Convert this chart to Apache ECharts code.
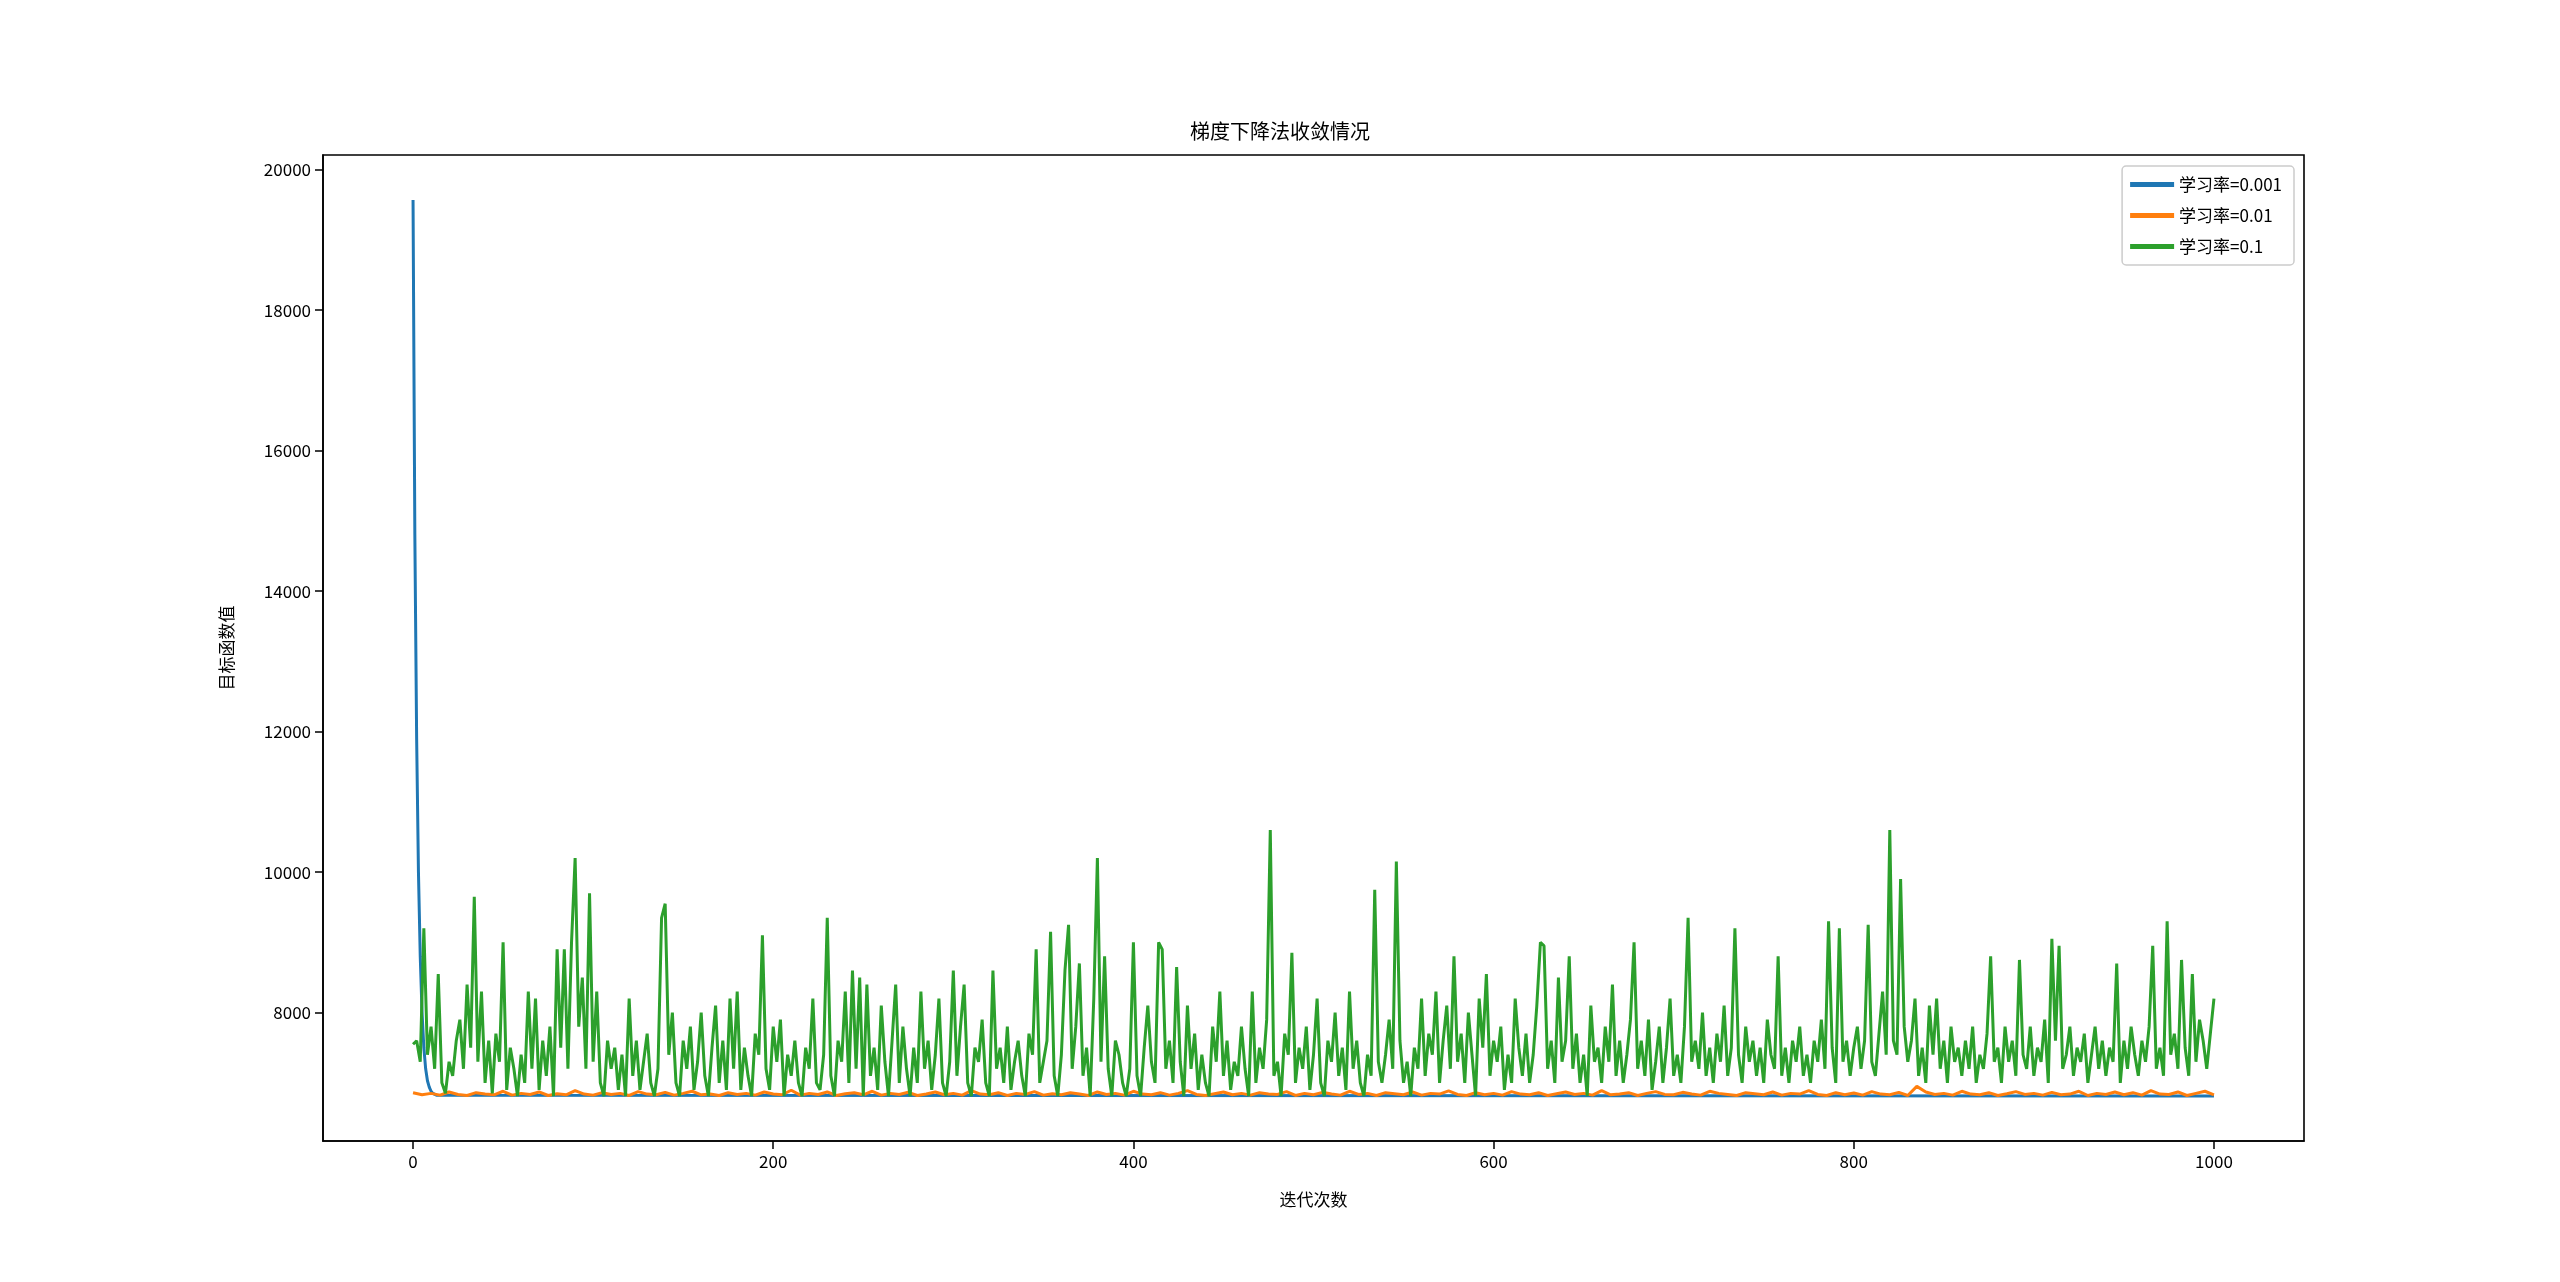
<!DOCTYPE html>
<html>
<head>
<meta charset="utf-8">
<script src="https://cdn.jsdelivr.net/npm/echarts@6/dist/echarts.min.js"></script>
<style>
  html, body { margin: 0; padding: 0; background: #fff; }
  #chart { width: 2560px; height: 1282px; }
</style>
</head>
<body>
<div id="chart"></div>
<script>
// 学习率=0.001: fast drop, then flat
let blueX = [0, 1, 2, 3, 4, 5, 6, 7, 8, 9, 10, 11, 12, 13, 14, 1000]
let blueY = [19570, 14800, 11900, 10000, 8800, 8000, 7500, 7200, 7030, 6940, 6880, 6850, 6835, 6825, 6818, 6812]

// 学习率=0.01: sampled every 5 iterations
let orangeStep = 5
let orangeY = [
  6860, 6830, 6850, 6825, 6870, 6835, 6820, 6860, 6840, 6830,
  6880, 6825, 6850, 6835, 6870, 6820, 6845, 6830, 6890, 6840,
  6825, 6860, 6835, 6850, 6820, 6875, 6840, 6830, 6865, 6825,
  6850, 6880, 6830, 6840, 6820, 6860, 6835, 6850, 6825, 6870,
  6840, 6830, 6895, 6825, 6850, 6835, 6870, 6820, 6845, 6860,
  6830, 6880, 6825, 6850, 6835, 6865, 6820, 6840, 6870, 6830,
  6850, 6825, 6890, 6840, 6830, 6860, 6820, 6850, 6835, 6875,
  6825, 6845, 6830, 6860, 6840, 6820, 6870, 6835, 6850, 6825,
  6880, 6840, 6830, 6860, 6825, 6850, 6890, 6835, 6820, 6845,
  6870, 6830, 6850, 6825, 6860, 6840, 6835, 6875, 6820, 6850,
  6830, 6865, 6840, 6825, 6880, 6835, 6850, 6820, 6860, 6845,
  6830, 6870, 6825, 6850, 6840, 6885, 6835, 6820, 6860, 6830,
  6850, 6825, 6875, 6840, 6830, 6860, 6820, 6845, 6870, 6835,
  6850, 6825, 6890, 6830, 6840, 6860, 6820, 6850, 6875, 6835,
  6830, 6865, 6840, 6825, 6880, 6850, 6835, 6820, 6860, 6845,
  6830, 6870, 6825, 6850, 6840, 6890, 6835, 6820, 6860, 6830,
  6855, 6825, 6875, 6840, 6830, 6865, 6820, 6950, 6870, 6835,
  6850, 6825, 6880, 6840, 6830, 6860, 6820, 6845, 6875, 6835,
  6850, 6825, 6865, 6830, 6840, 6880, 6820, 6850, 6835, 6870,
  6830, 6860, 6825, 6890, 6840, 6835, 6870, 6820, 6850, 6880,
  6830
]

// 学习率=0.1: sampled every 2 iterations
let greenStep = 2
let greenY = [
  7550, 7600, 7300, 9200, 7400, 7800, 7200, 8550, 7000, 6850,
  7300, 7100, 7600, 7900, 7200, 8400, 7500, 9650, 7300, 8300,
  7000, 7600, 6850, 7700, 7300, 9000, 6900, 7500, 7200, 6812,
  7400, 7000, 8300, 7200, 8200, 6900, 7600, 7100, 7800, 6812,
  8900, 7500, 8900, 7200, 9000, 10200, 7800, 8500, 7200, 9700,
  7300, 8300, 7000, 6812, 7600, 7200, 7500, 6900, 7400, 6812,
  8200, 7100, 7600, 6900, 7300, 7700, 7000, 6812, 7200, 9350,
  9550, 7400, 8000, 7000, 6812, 7600, 7200, 7800, 6900, 7300,
  8000, 7100, 6812, 7500, 8100, 7000, 7600, 6900, 8200, 7200,
  8300, 6900, 7500, 7100, 6812, 7700, 7400, 9100, 7200, 6900,
  7800, 7300, 7900, 6812, 7400, 7100, 7600, 7000, 6812, 7500,
  7200, 8200, 7000, 6900, 7400, 9350, 7100, 6812, 7600, 7300,
  8300, 7000, 8600, 7200, 8500, 6812, 8400, 7100, 7500, 6900,
  8100, 7300, 6812, 7600, 8400, 7000, 7800, 7200, 6812, 7500,
  7000, 8300, 7200, 7600, 6900, 7400, 8200, 7000, 6812, 7300,
  8600, 7100, 7800, 8400, 7000, 6812, 7500, 7300, 7900, 7000,
  6812, 8600, 7200, 7500, 7000, 7800, 6900, 7300, 7600, 7100,
  6812, 7700, 7400, 8900, 7000, 7300, 7600, 9150, 7100, 6812,
  7400, 8600, 9250, 7200, 7800, 8700, 7100, 7500, 6812, 8200,
  10200, 7300, 8800, 7200, 6812, 7600, 7400, 7000, 6812, 7200,
  9000, 7100, 6812, 7500, 8100, 7300, 7000, 9000, 8900, 7200,
  7600, 7000, 8650, 7300, 6812, 8100, 7200, 7700, 6900, 7400,
  7000, 6812, 7800, 7300, 8300, 7100, 7600, 6900, 7300, 7100,
  7800, 7200, 6812, 8300, 7000, 7500, 7200, 7900, 10600, 7100,
  7300, 6812, 7700, 7400, 8850, 7000, 7500, 7200, 7800, 6900,
  7400, 8200, 7000, 6812, 7600, 7300, 8000, 7100, 7500, 6900,
  8300, 7200, 7600, 7000, 6812, 7400, 7100, 9750, 7300, 7000,
  7400, 7900, 7200, 10150, 7600, 7000, 7300, 6812, 7500, 7200,
  8200, 7100, 7700, 7400, 8300, 7000, 7600, 8100, 7200, 8800,
  7300, 7700, 7000, 8000, 7400, 6812, 8200, 7500, 8550, 7100,
  7600, 7300, 7800, 6900, 7400, 7000, 8200, 7500, 7100, 7700,
  7000, 7400, 8100, 9000, 8950, 7200, 7600, 7000, 8500, 7300,
  7600, 8800, 7200, 7700, 7000, 7400, 6812, 8100, 7300, 7500,
  7000, 7800, 7300, 8400, 7100, 7600, 7000, 7400, 7900, 9000,
  7200, 7600, 7100, 7900, 6900, 7300, 7800, 7000, 7500, 8200,
  7100, 7400, 7000, 7800, 9350, 7300, 7600, 7200, 8000, 7100,
  7500, 7000, 7700, 7300, 8100, 7100, 7500, 9200, 7400, 7000,
  7800, 7300, 7600, 7100, 7500, 7000, 7900, 7400, 7200, 8800,
  7100, 7500, 7000, 7600, 7300, 7800, 7100, 7400, 7000, 7600,
  7300, 7900, 7200, 9300, 7500, 7000, 9200, 7300, 7600, 7100,
  7500, 7800, 7200, 7600, 9250, 7300, 7100, 7700, 8300, 7400,
  10600, 7600, 7400, 9900, 7800, 7300, 7600, 8200, 7100, 7500,
  7000, 8100, 7400, 8200, 7200, 7600, 7000, 7800, 7300, 7500,
  7100, 7600, 7200, 7800, 7000, 7400, 7200, 7700, 8800, 7300,
  7500, 7000, 7800, 7300, 7600, 7100, 8750, 7400, 7200, 7800,
  7100, 7500, 7300, 7900, 7000, 9050, 7600, 8950, 7200, 7400,
  7800, 7100, 7500, 7300, 7700, 7000, 7400, 7800, 7200, 7600,
  7100, 7500, 7300, 8700, 7000, 7600, 7200, 7800, 7400, 7100,
  7600, 7300, 7800, 8950, 7200, 7500, 7100, 9300, 7400, 7700,
  7200, 8750, 7500, 7100, 8550, 7300, 7900, 7600, 7200, 7700,
  8200
]

let xTicks = [0, 200, 400, 600, 800, 1000]
let yTicks = [8000, 10000, 12000, 14000, 16000, 18000, 20000]

function pairs(xs, ys) {
  return ys.map((y, i) => [xs[i], y])
}
function stepped(step, ys) {
  return ys.map((y, i) => [i * step, y])
}

let font = '"Noto Sans CJK SC", "Noto Sans", sans-serif'
let chart = echarts.init(document.getElementById('chart'))

let option = {
  animation: false,
  backgroundColor: '#fff',
  textStyle: { fontFamily: font, color: '#000' },
  title: {
    text: '梯度下降法收敛情况',
    left: 'center',
    top: 116,
    textStyle: { fontSize: 20, fontWeight: 'normal', color: '#000', fontFamily: font }
  },
  legend: {
    orient: 'vertical',
    right: 266,
    top: 166,
    padding: [10, 12, 10, 8],
    itemWidth: 44,
    itemHeight: 5,
    itemGap: 14,
    backgroundColor: 'rgba(255,255,255,0.8)',
    borderColor: '#cccccc',
    borderWidth: 1.5,
    borderRadius: 4,
    icon: 'rect',
    textStyle: { fontSize: 17, color: '#000', fontFamily: font }
  },
  grid: {
    left: 323, right: 256, top: 155, bottom: 141,
    show: true, borderColor: '#000', borderWidth: 1.6, backgroundColor: 'transparent'
  },
  xAxis: {
    type: 'value',
    min: -50, max: 1050,
    name: '迭代次数',
    nameLocation: 'middle',
    nameGap: 50,
    nameTextStyle: { fontSize: 17, color: '#000' },
    axisLine: { show: true, onZero: false, lineStyle: { color: '#000', width: 1.6 } },
    axisTick: { show: true, length: 8, lineStyle: { color: '#000', width: 1.5 }, customValues: xTicks },
    axisLabel: { fontSize: 17, color: '#000', margin: 12, customValues: xTicks, formatter: v => String(v) },
    splitLine: { show: false }
  },
  yAxis: {
    type: 'value',
    min: 6172, max: 20210,
    name: '目标函数值',
    nameLocation: 'middle',
    nameGap: 88,
    nameTextStyle: { fontSize: 17, color: '#000' },
    axisLine: { show: true, onZero: false, lineStyle: { color: '#000', width: 1.6 } },
    axisTick: { show: true, length: 8, lineStyle: { color: '#000', width: 1.5 }, customValues: yTicks },
    axisLabel: { fontSize: 17, color: '#000', margin: 12, customValues: yTicks, formatter: v => String(v) },
    splitLine: { show: false }
  },
  series: [
    {
      name: '学习率=0.001', type: 'line', showSymbol: false,
      lineStyle: { width: 3, color: '#1f77b4' }, itemStyle: { color: '#1f77b4' },
      data: pairs(blueX, blueY)
    },
    {
      name: '学习率=0.01', type: 'line', showSymbol: false,
      lineStyle: { width: 3, color: '#ff7f0e' }, itemStyle: { color: '#ff7f0e' },
      data: stepped(orangeStep, orangeY)
    },
    {
      name: '学习率=0.1', type: 'line', showSymbol: false,
      lineStyle: { width: 3, color: '#2ca02c' }, itemStyle: { color: '#2ca02c' },
      data: stepped(greenStep, greenY)
    }
  ]
}

chart.setOption(option)
</script>
</body>
</html>
